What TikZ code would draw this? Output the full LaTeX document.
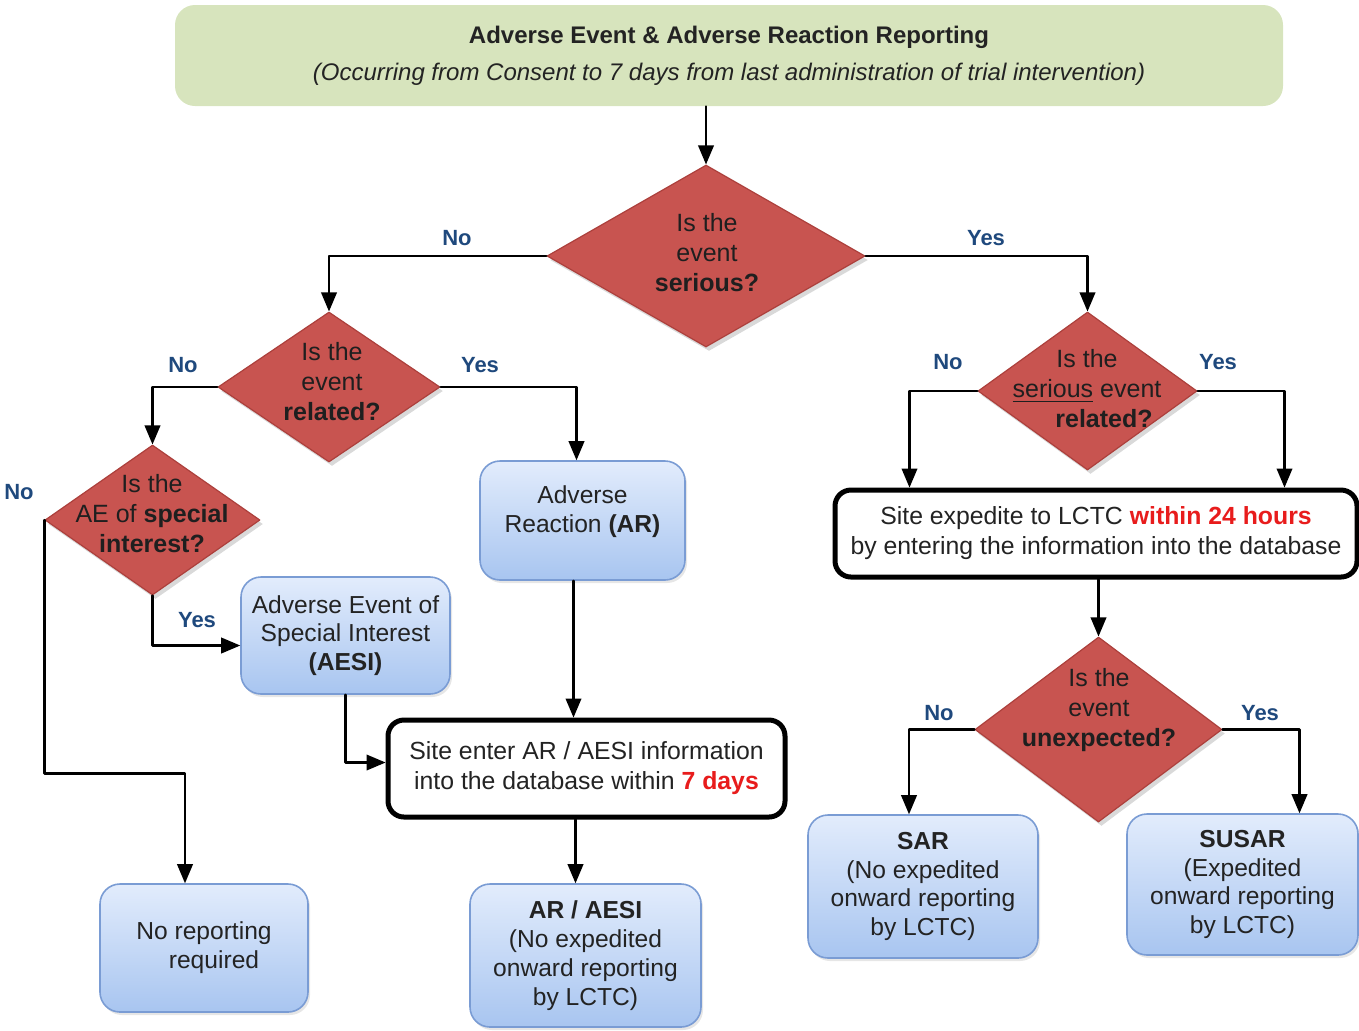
\documentclass[tikz,border=0pt]{standalone}
\usepackage{fontspec}
\setmainfont{Liberation Sans}
\usetikzlibrary{arrows}
\usetikzlibrary{shapes.geometric}
\usetikzlibrary{shadows}

\definecolor{headgreen}{RGB}{215,228,189}
\definecolor{diared}{RGB}{200,84,80}
\definecolor{diaedge}{RGB}{172,64,60}
\definecolor{boxtop}{RGB}{226,236,252}
\definecolor{boxbot}{RGB}{168,197,240}
\definecolor{boxedge}{RGB}{122,156,212}
\definecolor{lblblue}{RGB}{31,73,125}
\definecolor{alertred}{RGB}{232,28,28}
\definecolor{txtgray}{RGB}{35,35,35}

\tikzset{
  dia/.style={diamond,draw=diaedge,line width=0.6pt,fill=diared,inner sep=0pt,
    drop shadow={opacity=0.3,shadow xshift=1.5pt,shadow yshift=-2pt}},
  diatext/.style={align=center,font=\fontsize{12.5}{15}\selectfont,text=black!88},
  bluebox/.style={rectangle,rounded corners=10pt,draw=boxedge,line width=0.8pt,
    top color=boxtop,bottom color=boxbot,align=center,inner sep=0pt,
    font=\fontsize{12.3}{14.4}\selectfont,text=txtgray,
    drop shadow={opacity=0.2,shadow xshift=1pt,shadow yshift=-1.5pt}},
  blackbox/.style={rectangle,rounded corners=8pt,draw=black,line width=2.5pt,fill=white,
    align=center,inner sep=0pt,font=\fontsize{12.4}{15}\selectfont,text=txtgray},
  lbl/.style={font=\fontsize{11}{13}\selectfont\bfseries,text=lblblue},
  conn/.style={->,line width=1.2pt}
}

\begin{document}
\begin{tikzpicture}[line cap=round,line join=round,>=triangle 45,x=0.5pt,y=-0.5pt]
        \useasboundingbox (0,0) rectangle (1359,1030);
        % header
        \node[rectangle,rounded corners=10pt,fill=headgreen,minimum width=554pt,minimum height=50.5pt,
          align=center,text=txtgray,font=\fontsize{12}{15}\selectfont] (head) at (729,55.5)
          {\textbf{Adverse Event \& Adverse Reaction Reporting}\\[3.5pt]
           \textit{(Occurring from Consent to 7 days from last administration of trial intervention)}};
        % decisions
        \node[dia,minimum width=159pt,minimum height=91pt] (d1) at (706,256) {};
        \node[diatext] (d1t) at (707,253) {Is the\\event\\\textbf{serious?}};
        \node[dia,minimum width=111pt,minimum height=75pt] (d2) at (329,387) {};
        \node[diatext] (d2t) at (332,382) {Is the\\event\\\textbf{related?}};
        \node[dia,minimum width=109.5pt,minimum height=79pt] (d3) at (1087.5,391) {};
        \node[diatext] (d3t) at (1087,389) {Is the\\\underline{serious} event\\\hspace*{17pt}\textbf{related?}};
        \node[dia,minimum width=107.5pt,minimum height=75pt] (d4) at (152.5,520) {};
        \node[diatext] (d4t) at (152,514) {Is the\\AE of \textbf{special}\\\textbf{interest?}};
        \node[dia,minimum width=123.5pt,minimum height=92.5pt] (d5) at (1098.5,729.5) {};
        \node[diatext] (d5t) at (1099,710) {Is the\\event\\\textbf{unexpected?}};
        % outcomes
        \node[bluebox,minimum width=102.5pt,minimum height=59.5pt] (ar) at (582.5,520.5)
          {Adverse\\Reaction \textbf{(AR)}\\[-3pt]};
        \node[bluebox,minimum width=104.5pt,minimum height=58.5pt] (aesi) at (345.5,635.5)
          {Adverse Event of\\Special Interest\\\textbf{(AESI)}};
        \node[blackbox,minimum width=198.5pt,minimum height=48.5pt] (site) at (586.5,768.5)
          {Site enter AR / AESI information\\into the database within \textcolor{alertred}{\textbf{7 days}}};
        \node[blackbox,minimum width=261pt,minimum height=43.5pt] (lctc) at (1096,533.5)
          {Site expedite to LCTC \textcolor{alertred}{\textbf{within 24 hours}}\\by entering the information into the database};
        \node[bluebox,minimum width=104pt,minimum height=64pt] (none) at (204,948)
          {No reporting\\\hspace*{10pt}required};
        \node[bluebox,minimum width=115.5pt,minimum height=71.5pt] (aresi) at (585.5,955.5)
          {\textbf{AR / AESI}\\(No expedited\\onward reporting\\by LCTC)};
        \node[bluebox,minimum width=115pt,minimum height=71.5pt] (sar) at (923,886.5)
          {\textbf{SAR}\\(No expedited\\onward reporting\\by LCTC)};
        \node[bluebox,minimum width=115.5pt,minimum height=70.5pt] (susar) at (1242.5,884.5)
          {\textbf{SUSAR}\\(Expedited\\onward reporting\\by LCTC)};
        % connectors
        \draw[conn] (d1.north |- head.south) -- (d1.north);
        \draw[conn] (d1.west) -| (d2.north);
        \draw[conn] (d1.east) -| (d3.north);
        \draw[conn] (d2.west) -| (d4.north);
        \draw[conn] (d2.east) -| ([xshift=-3pt]ar.north);
        \draw[conn] (d4.south) |- ([yshift=-5pt]aesi.west);
        \draw[conn] (d4.west) -- ([yshift=-2.5pt]d4.west |- site.west) -| ([xshift=-9.5pt]none.north);
        \draw[conn] (aesi.south) |- ([yshift=3pt]site.west);
        \draw[conn] ([xshift=-4.5pt]ar.south) -- ([xshift=-4.5pt]ar.south |- site.north);
        \draw[conn] ([xshift=-5pt]aresi.north |- site.south) -- ([xshift=-5pt]aresi.north);
        \draw[conn] (d3.west) -| ([xshift=38.5pt]lctc.north west);
        \draw[conn] (d3.east) -| ([xshift=-37.5pt]lctc.north east);
        \draw[conn] (lctc.south -| d5.north) -- (d5.north);
        \draw[conn] (d5.west) -| ([xshift=-7pt]sar.north);
        \draw[conn] (d5.east) -| ([xshift=28.5pt]susar.north);
        % branch labels
        \node[lbl] (l1no) at (457,238) {No};
        \node[lbl] (l1yes) at (986,238) {Yes};
        \node[lbl] (l2no) at (183,365) {No};
        \node[lbl] (l2yes) at (480,365) {Yes};
        \node[lbl] (l3no) at (948,362) {No};
        \node[lbl] (l3yes) at (1218,362) {Yes};
        \node[lbl] (l4no) at (19,492) {No};
        \node[lbl] (l4yes) at (197,620) {Yes};
        \node[lbl] (l5no) at (939,713) {No};
        \node[lbl] (l5yes) at (1260,713) {Yes};
      \end{tikzpicture}
\end{document}
